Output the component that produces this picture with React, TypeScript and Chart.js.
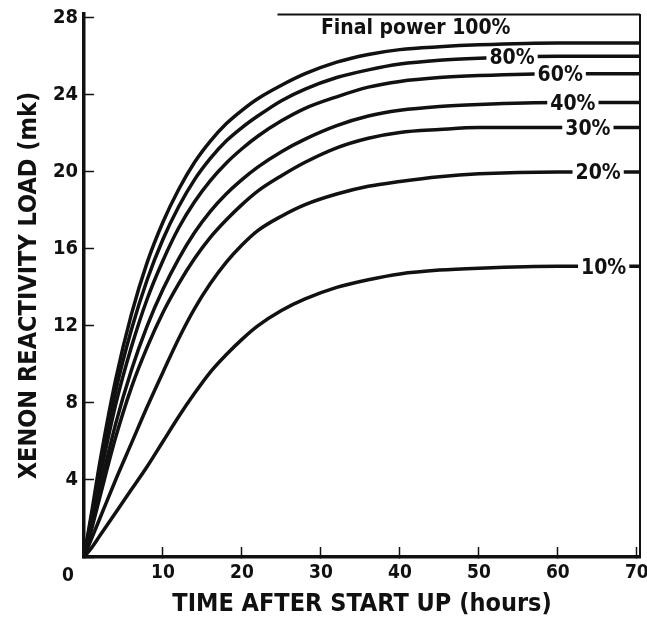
import React, { useEffect, useRef } from 'react';
import { Chart, registerables } from 'chart.js';

Chart.register(...registerables);

// ---- data ----
const hours = [0, 1, 2, 4, 6, 8, 10, 12, 14, 16, 18, 20, 22, 25, 28, 32, 36, 40, 45, 50, 60, 70.5];
const power100 = [0, 2.4, 4.9, 9.2, 12.6, 15.3, 17.4, 19.1, 20.5, 21.6, 22.5, 23.2, 23.8, 24.5, 25.1, 25.7, 26.1, 26.35, 26.5, 26.6, 26.7, 26.7];
const power80 = [0, 2.2, 4.5, 8.6, 11.8, 14.4, 16.5, 18.2, 19.6, 20.7, 21.6, 22.3, 22.9, 23.7, 24.3, 24.9, 25.3, 25.6, 25.8, 25.9, 26.0, 26.0];
const power60 = [0, 2.0, 4.1, 7.9, 10.9, 13.4, 15.4, 17.1, 18.45, 19.55, 20.45, 21.2, 21.85, 22.65, 23.3, 23.9, 24.4, 24.7, 24.9, 25.0, 25.1, 25.1];
const power40 = [0, 1.7, 3.5, 6.9, 9.7, 12.0, 13.9, 15.5, 16.85, 17.95, 18.85, 19.6, 20.25, 21.05, 21.7, 22.4, 22.9, 23.2, 23.4, 23.5, 23.6, 23.6];
const power30 = [0, 1.5, 3.1, 6.2, 8.8, 10.9, 12.7, 14.2, 15.5, 16.6, 17.5, 18.3, 19.0, 19.8, 20.5, 21.25, 21.75, 22.05, 22.2, 22.3, 22.3, 22.3];
const power20 = [0, 1.0, 2.0, 4.0, 5.9, 7.8, 9.6, 11.35, 12.9, 14.2, 15.3, 16.2, 16.95, 17.7, 18.3, 18.85, 19.25, 19.5, 19.75, 19.9, 20.0, 20.0];
const power10 = [0, 0.5, 1.1, 2.3, 3.5, 4.7, 6.0, 7.3, 8.5, 9.6, 10.5, 11.3, 12.0, 12.8, 13.4, 14.0, 14.4, 14.7, 14.9, 15.0, 15.1, 15.1];

const seriesValues = [power100, power80, power60, power40, power30, power20, power10];
const seriesNames = ['100%', '80%', '60%', '40%', '30%', '20%', '10%'];
const labelHours = [42, 54.2, 60.3, 61.9, 63.8, 65.1, 65.8];

const xTicks = [0, 10, 20, 30, 40, 50, 60, 70];
const yTicks = [0, 4, 8, 12, 16, 20, 24, 28];
const X_MAX = 70.4;
const Y_MAX = 28.2;
const TOP_BORDER_FROM = 24.5;

const xTitle = 'TIME AFTER START UP (hours)';
const yTitle = 'XENON REACTIVITY LOAD (mk)';
const finalPrefix = 'Final power ';

const FONT = '"Liberation Sans Narrow", "DejaVu Sans Condensed", "Arial Narrow", "Liberation Sans", sans-serif';

const decorPlugin = {
  id: 'decor',
  afterDatasetsDraw(chart: any) {
    const { ctx, chartArea, scales } = chart;
    const xs = scales.x;
    const ys = scales.y;
    ctx.save();
    // top and right frame lines
    ctx.strokeStyle = '#111';
    ctx.lineWidth = 2;
    ctx.beginPath();
    ctx.moveTo(xs.getPixelForValue(TOP_BORDER_FROM), chartArea.top + 0.5);
    ctx.lineTo(chartArea.right, chartArea.top + 0.5);
    ctx.moveTo(chartArea.right, chartArea.top);
    ctx.lineTo(chartArea.right, chartArea.bottom);
    ctx.stroke();

    // curve labels
    ctx.font = `bold 21px ${FONT}`;
    ctx.textAlign = 'center';
    ctx.textBaseline = 'middle';
    seriesValues.forEach((vals, i) => {
      const px = xs.getPixelForValue(labelHours[i]);
      const py = ys.getPixelForValue(vals[vals.length - 1]);
      if (i === 0) {
        ctx.fillStyle = '#111';
        ctx.fillText(finalPrefix + seriesNames[i], px, py - 14);
      } else {
        const w = ctx.measureText(seriesNames[i]).width + 6;
        ctx.fillStyle = '#fff';
        ctx.fillRect(px - w / 2, py - 5, w, 10);
        ctx.fillStyle = '#111';
        ctx.fillText(seriesNames[i], px, py + 2);
      }
    });

    // shared origin label
    ctx.font = `bold 19px ${FONT}`;
    ctx.fillText(String(xTicks[0]), xs.getPixelForValue(0) - 16, chartArea.bottom + 19);
    ctx.restore();
  },
};

export default function App() {
  const canvasRef = useRef<HTMLCanvasElement | null>(null);

  useEffect(() => {
    const canvas = canvasRef.current;
    if (!canvas) return;
    const chart = new Chart(canvas, {
      type: 'line',
      data: {
        datasets: seriesValues.map((vals, i) => ({
          label: seriesNames[i],
          data: hours.map((h, j) => ({ x: h, y: vals[j] })),
          borderColor: '#111',
          borderWidth: 3.5,
          pointRadius: 0,
          fill: false,
          cubicInterpolationMode: 'monotone' as const,
        })),
      },
      options: {
        animation: false,
        responsive: true,
        maintainAspectRatio: false,
        layout: { padding: { top: 14, right: 7, bottom: 0, left: 0 } },
        plugins: {
          legend: { display: false },
          tooltip: { enabled: false },
        },
        scales: {
          x: {
            type: 'linear',
            min: 0,
            max: X_MAX,
            afterBuildTicks: (scale: any) => {
              scale.ticks = xTicks.map((v) => ({ value: v }));
            },
            afterFit: (scale: any) => {
              scale.height = 68;
              scale.paddingLeft = 0;
              scale.paddingRight = 0;
            },
            grid: {
              drawOnChartArea: false,
              drawTicks: true,
              tickLength: -10,
              tickWidth: 1.5,
              tickColor: '#111',
            },
            border: { display: true, color: '#111', width: 3.5 },
            ticks: {
              padding: 15,
              color: '#111',
              font: { family: FONT, size: 19, weight: 'bold' },
              callback: (v: any) => (v === 0 ? '' : String(v)),
              maxRotation: 0,
            },
            title: {
              display: true,
              text: xTitle,
              color: '#111',
              font: { family: FONT, size: 25, weight: 'bold', lineHeight: 1.2 },
              padding: { top: 0, bottom: 6 },
            },
          },
          y: {
            type: 'linear',
            min: 0,
            max: Y_MAX,
            afterBuildTicks: (scale: any) => {
              scale.ticks = yTicks.map((v) => ({ value: v }));
            },
            afterFit: (scale: any) => {
              scale.width = 84;
              scale.paddingTop = 0;
              scale.paddingBottom = 0;
            },
            grid: {
              drawOnChartArea: false,
              drawTicks: true,
              tickLength: -10,
              tickWidth: 1.5,
              tickColor: '#111',
            },
            border: { display: true, color: '#111', width: 3.5 },
            ticks: {
              padding: 16,
              color: '#111',
              font: { family: FONT, size: 20, weight: 'bold' },
              callback: (v: any) => (v === 0 ? '' : String(v)),
            },
            title: {
              display: true,
              text: yTitle,
              color: '#111',
              font: { family: FONT, size: 25, weight: 'bold', lineHeight: 1.2 },
              padding: { top: 14, bottom: 0 },
            },
          },
        },
      },
      plugins: [decorPlugin],
    });
    return () => chart.destroy();
  }, []);

  return (
    <div style={{ position: 'fixed', left: 0, top: 0, width: 647, height: 625, background: '#fff' }}>
      <canvas ref={canvasRef} />
    </div>
  );
}
